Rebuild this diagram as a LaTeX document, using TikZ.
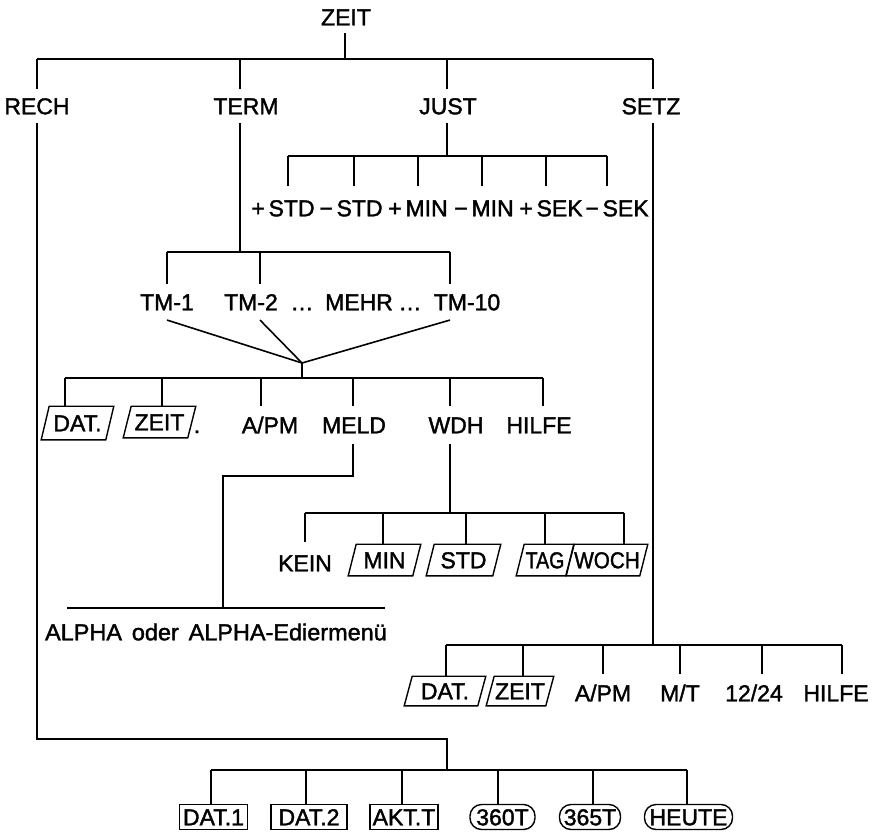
\documentclass[tikz,border=0pt]{standalone}
\usepackage{graphicx}
\usepackage{fontspec}
\setmainfont[FakeBold=1.6]{Liberation Sans}
\newcommand\lbl{\fontsize{23}{27}\selectfont}
\newcommand\pgram[1]{\draw[boxline] ([xshift=-4pt]#1.south west) -- ([xshift=4pt]#1.north west) -- ([xshift=4pt]#1.north east) -- ([xshift=-4pt]#1.south east) -- cycle;}
\begin{document}
\begin{tikzpicture}[x=1pt,y=-1pt,line width=1.6pt,
  lab/.style={font=\lbl,text height=16.5pt,text depth=0pt,inner xsep=0pt,inner ysep=#1},
  lab/.default=9pt,
  pb/.style 2 args={font=\lbl,text height=16.5pt,text depth=0pt,inner sep=0pt,minimum width=#1,minimum height=#2},
  boxline/.style={line width=1.4pt,line join=miter},
  rbox/.style={draw,line width=1.4pt,font=\lbl,text height=16.5pt,text depth=0pt,inner sep=0pt,minimum height=25pt,minimum width=#1},
  pill/.style={rbox=#1,rounded corners=11.5pt}]
\useasboundingbox (0,0) rectangle (881,835);
% ---------- top level
\node[lab=7pt] (zeit) at (346,17) {ZEIT};
\node[lab=8pt] (rech) at (37,106) {RECH};
\node[lab=8pt] (term) at (246,106) {TERM};
\node[lab=8pt] (just) at (448,106) {JUST};
\node[lab=8pt] (setz) at (651,106) {SETZ};
\coordinate (z0) at (345,59);
\coordinate (zL) at (37,59);
\coordinate (zT) at (240,59);
\coordinate (zJ) at (447,59);
\coordinate (zR) at (653,59);
\draw (z0 |- zeit.south) -- (z0);
\draw (zL) -- (zR);
\draw (zL) -- (zL |- rech.north);
\draw (zT) -- (zT |- term.north);
\draw (zJ) -- (zJ |- just.north);
\draw (zR) -- (zR |- setz.north);
% ---------- JUST
\coordinate (jL) at (288,156);
\coordinate (jR) at (607,156);
\draw (zJ |- just.south) -- (zJ |- jL);
\draw (jL) -- (jR);
\node[lab=13pt] (s1) at (283,208) {+\,STD};
\node[lab=13pt] (s2) at (351,208) {−\,STD};
\node[lab=13pt] (s3) at (418,208) {+\,MIN};
\node[lab=13pt] (s4) at (484,208) {−\,MIN};
\node[lab=13pt] (s5) at (551,208) {+\,SEK};
\node[lab=13pt] (s6) at (617,208) {−\,SEK};
\coordinate (j1) at (288,156);
\coordinate (j2) at (354,156);
\coordinate (j3) at (418,156);
\coordinate (j4) at (482,156);
\coordinate (j5) at (546,156);
\coordinate (j6) at (607,156);
\foreach \i in {1,...,6} {\draw (j\i) -- (j\i |- s\i.north);}
% ---------- TERM
\coordinate (tL) at (167,252);
\coordinate (tR) at (450,252);
\draw (zT |- term.south) -- (zT |- tL);
\draw (tL) -- (tR);
\node[lab] (tm1) at (167,302) {TM-1};
\node[lab] (tm2) at (251,302) {TM-2};
\node[lab] (dd1) at (302,302) {…};
\node[lab] (mehr) at (359,302) {MEHR};
\node[lab] (dd2) at (410,302) {…};
\node[lab] (tm10) at (467,302) {TM-10};
\coordinate (t1) at (167,252);
\coordinate (t2) at (260,252);
\coordinate (t3) at (450,252);
\draw (t1) -- (t1 |- tm1.north);
\draw (t2) -- (t2 |- tm2.north);
\draw (t3) -- (t3 |- tm10.north);
\coordinate (cv) at (302,363);
\coordinate (mb) at (302,378);
\draw (t1 |- tm1.south) -- (cv);
\draw (t2 |- tm2.south) -- (cv);
\draw (t3 |- tm10.south) -- (cv);
\draw (cv) -- (mb);
\coordinate (mL) at (65,378);
\coordinate (mR) at (543,378);
\draw (mL) -- (mR);
\node[pb={63pt}{32pt}] (dat1) at (77.5,423) {DAT.};
\pgram{dat1}
\node[pb={63pt}{30pt}] (zeit1) at (159.5,422) {ZEIT};
\pgram{zeit1}
\node[font=\lbl,inner sep=0pt,anchor=base] (pt1) at (197,433) {.};
\node[lab=10pt] (apm1) at (270,425) {A/PM};
\node[lab=10pt] (meld) at (354,425) {MELD};
\node[lab=10pt] (wdh) at (456,425) {WDH};
\node[lab=10pt] (hilfe1) at (539,425) {HILFE};
\coordinate (m1) at (65,378);
\coordinate (m2) at (162,378);
\coordinate (m3) at (261,378);
\coordinate (m4) at (353,378);
\coordinate (m5) at (450,378);
\coordinate (m6) at (543,378);
\draw (m1) -- (m1 |- dat1.north);
\draw (m2) -- (m2 |- zeit1.north);
\draw (m3) -- (m3 |- apm1.north);
\draw (m4) -- (m4 |- meld.north);
\draw (m5) -- (m5 |- wdh.north);
\draw (m6) -- (m6 |- hilfe1.north);
% ---------- MELD
\coordinate (mk) at (223,476);
\coordinate (ak) at (223,608);
\coordinate (aL) at (67,608);
\coordinate (aR) at (385,608);
\draw (m4 |- meld.south) |- (mk) -- (ak);
\draw (aL) -- (aR);
\node[lab] (alpha) at (216,632) {\scalebox{1.02}[1]{ALPHA\hspace{0.42em}oder\hspace{0.42em}ALPHA-Ediermenü}};
% ---------- WDH
\coordinate (wL) at (305,513);
\coordinate (wR) at (624,513);
\draw (m5 |- wdh.south) -- (m5 |- wL);
\draw (wL) -- (wR);
\node[lab=12pt] (kein) at (305,563) {KEIN};
\node[pb={63pt}{30pt}] (wmin) at (384.5,560) {MIN};
\pgram{wmin}
\node[pb={65pt}{30pt}] (wstd) at (463.5,560) {STD};
\pgram{wstd}
\node[pb={48pt}{30pt}] (wtag) at (545,560) {\scalebox{0.85}[1]{TAG}};
\pgram{wtag}
\node[pb={72pt}{30pt}] (woch) at (607,560) {\scalebox{0.9}[1]{WOCH}};
\pgram{woch}
\coordinate (w1) at (305,513);
\coordinate (w2) at (383,513);
\coordinate (w3) at (466,513);
\coordinate (w4) at (545,513);
\coordinate (w5) at (624,513);
\draw (w1) -- (w1 |- kein.north);
\draw (w2) -- (w2 |- wmin.north);
\draw (w3) -- (w3 |- wstd.north);
\draw (w4) -- (w4 |- wtag.north);
\draw (w5) -- (w5 |- woch.north);
% ---------- SETZ
\coordinate (sL) at (446,645);
\coordinate (sR) at (842,645);
\draw (zR |- setz.south) -- (zR |- sL);
\draw (sL) -- (sR);
\node[pb={72pt}{28pt}] (dat2) at (445,691) {DAT.};
\pgram{dat2}
\node[pb={58pt}{28pt}] (zeit2) at (520,691) {ZEIT};
\pgram{zeit2}
\node[lab=10pt] (apm2) at (603,693) {A/PM};
\node[lab=10pt] (mt) at (680,693) {M/T};
\node[lab=10pt] (ttf) at (754,693) {12/24};
\node[lab=10pt] (hilfe2) at (836,693) {HILFE};
\coordinate (u1) at (446,645);
\coordinate (u2) at (523,645);
\coordinate (u3) at (603,645);
\coordinate (u4) at (680,645);
\coordinate (u5) at (762,645);
\coordinate (u6) at (842,645);
\draw (u1) -- (u1 |- dat2.north);
\draw (u2) -- (u2 |- zeit2.north);
\draw (u3) -- (u3 |- apm2.north);
\draw (u4) -- (u4 |- mt.north);
\draw (u5) -- (u5 |- ttf.north);
\draw (u6) -- (u6 |- hilfe2.north);
% ---------- RECH
\coordinate (rk) at (447,739);
\coordinate (bb) at (447,770);
\coordinate (bL) at (211,770);
\coordinate (bR) at (687,770);
\draw (zL |- rech.south) |- (rk) -- (bb);
\draw (bL) -- (bR);
\node[rbox=68pt] (r1) at (213.5,817) {DAT.1};
\node[rbox=76pt] (r2) at (309,817) {DAT.2};
\node[rbox=68pt] (r3) at (404,817) {AKT.T};
\node[pill=65pt] (p1) at (502.5,817) {360T};
\node[pill=61pt] (p2) at (590,817) {365T};
\node[pill=88pt] (p3) at (688.5,817) {HEUTE};
\coordinate (b1) at (211,770);
\coordinate (b2) at (306,770);
\coordinate (b3) at (402,770);
\coordinate (b4) at (498,770);
\coordinate (b5) at (593,770);
\coordinate (b6) at (687,770);
\draw (b1) -- (b1 |- r1.north);
\draw (b2) -- (b2 |- r2.north);
\draw (b3) -- (b3 |- r3.north);
\draw (b4) -- (b4 |- p1.north);
\draw (b5) -- (b5 |- p2.north);
\draw (b6) -- (b6 |- p3.north);
\end{tikzpicture}
\end{document}
